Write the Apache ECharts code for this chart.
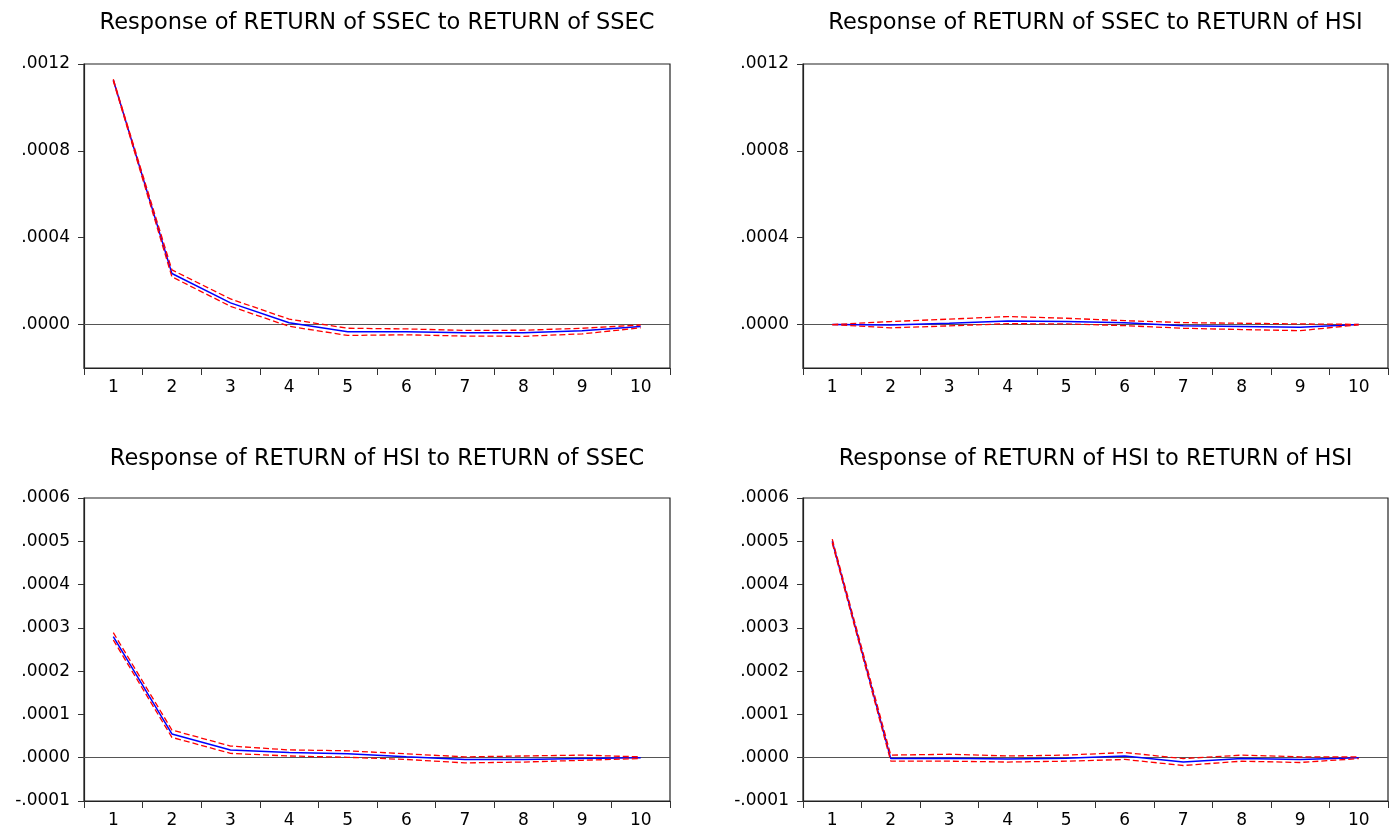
<!DOCTYPE html>
<html>
<head>
<meta charset="utf-8">
<script src="https://cdn.jsdelivr.net/npm/echarts@6/dist/echarts.min.js"></script>
<style>
html,body{margin:0;padding:0;background:#fff;}
#chart{width:1389px;height:829px;}
</style>
</head>
<body>
<div id="chart"></div>
<script>
// ---- Data ----
const periods = ['1','2','3','4','5','6','7','8','9','10'];

const titles = [
  'Response of RETURN of SSEC to RETURN of SSEC',
  'Response of RETURN of SSEC to RETURN of HSI',
  'Response of RETURN of HSI to RETURN of SSEC',
  'Response of RETURN of HSI to RETURN of HSI'
];

// Panel 1: SSEC -> SSEC
const ssecSsecResp  = [0.001126, 0.000235, 0.000100, 0.000008, -0.000033, -0.000033, -0.000038, -0.000038, -0.000028, -0.000009];
const ssecSsecUpper = [0.001130, 0.000252, 0.000118, 0.000025, -0.000017, -0.000020, -0.000027, -0.000026, -0.000017, -0.000002];
const ssecSsecLower = [0.001122, 0.000220, 0.000084, -0.000008, -0.000050, -0.000047, -0.000053, -0.000054, -0.000043, -0.000015];

// Panel 2: SSEC -> HSI
const ssecHsiResp  = [0, -0.000002, 0.000006, 0.000017, 0.000014, 0.000008, -0.000005, -0.000009, -0.000012, 0];
const ssecHsiUpper = [0, 0.000014, 0.000025, 0.000037, 0.000029, 0.000018, 0.000009, 0.000006, 0.000003, 0.000001];
const ssecHsiLower = [0, -0.000015, -0.000006, 0.000004, 0.000003, -0.000005, -0.000017, -0.000023, -0.000028, -0.000001];

// Panel 3: HSI -> SSEC
const hsiSsecResp  = [0.000280, 0.000055, 0.000018, 0.000012, 0.000009, 0.000002, -0.000004, -0.000004, -0.000002, 0];
const hsiSsecUpper = [0.000289, 0.000064, 0.000027, 0.000018, 0.000016, 0.000009, 0.000002, 0.000004, 0.000006, 0.000002];
const hsiSsecLower = [0.000272, 0.000047, 0.000010, 0.000004, 0.000001, -0.000004, -0.000012, -0.000010, -0.000006, -0.000002];

// Panel 4: HSI -> HSI
const hsiHsiResp  = [0.000500, -0.000002, -0.000001, -0.000003, -0.000001, 0.000004, -0.000010, -0.000002, -0.000004, 0];
const hsiHsiUpper = [0.000505, 0.000006, 0.000008, 0.000004, 0.000006, 0.000012, -0.000002, 0.000006, 0.000002, 0.000002];
const hsiHsiLower = [0.000496, -0.000008, -0.000008, -0.000010, -0.000008, -0.000004, -0.000018, -0.000008, -0.000011, -0.000002];

const topTicks = [0, 0.0004, 0.0008, 0.0012];

// ---- Layout ----
const panels = [
  {resp: ssecSsecResp, up: ssecSsecUpper, lo: ssecSsecLower, left: 84,  top: 64,  width: 586, min: -0.0002, max: 0.0012, interval: 0.0002, custom: topTicks},
  {resp: ssecHsiResp,  up: ssecHsiUpper,  lo: ssecHsiLower,  left: 803, top: 64,  width: 585, min: -0.0002, max: 0.0012, interval: 0.0002, custom: topTicks},
  {resp: hsiSsecResp,  up: hsiSsecUpper,  lo: hsiSsecLower,  left: 84,  top: 498, width: 586, min: -0.0001, max: 0.0006, interval: 0.0001, custom: null},
  {resp: hsiHsiResp,   up: hsiHsiUpper,   lo: hsiHsiLower,   left: 803, top: 498, width: 585, min: -0.0001, max: 0.0006, interval: 0.0001, custom: null}
];
const titleY = [10, 10, 446, 446];

const fmt = v => {
  const x = Math.abs(v) < 1e-12 ? 0 : v;
  return x.toFixed(4).replace('0.', '.');
};

const grids = [], xAxes = [], yAxes = [], series = [], titleArr = [];
panels.forEach((p, i) => {
  grids.push({left: p.left, top: p.top, width: p.width, height: 304, show: true,
    borderColor: '#222', borderWidth: 1.2, backgroundColor: 'transparent'});
  titleArr.push({text: titles[i], left: p.left + p.width / 2, top: titleY[i], textAlign: 'center', padding: 0,
    textStyle: {fontFamily: 'DejaVu Sans', fontSize: 22.5, fontWeight: 'normal', color: '#000', lineHeight: 26}});
  xAxes.push({type: 'category', gridIndex: i, data: periods, boundaryGap: true,
    axisLine: {show: true, onZero: false, lineStyle: {color: '#222', width: 1.2}},
    axisTick: {show: true, inside: false, length: 7, alignWithLabel: false, lineStyle: {color: '#333'}},
    axisLabel: {color: '#000', fontFamily: 'DejaVu Sans', fontSize: 17, margin: 11},
    splitLine: {show: false}});
  const ya = {type: 'value', gridIndex: i, min: p.min, max: p.max, interval: p.interval,
    axisLine: {show: true, lineStyle: {color: '#222', width: 1.2}},
    axisTick: {show: true, inside: false, length: 6, lineStyle: {color: '#333'}},
    axisLabel: {color: '#000', fontFamily: 'DejaVu Sans', fontSize: 17, margin: 14, formatter: fmt},
    splitLine: {show: false}};
  if (p.custom) {
    ya.axisTick.customValues = p.custom;
    ya.axisLabel.customValues = p.custom;
  }
  yAxes.push(ya);
  series.push({type: 'line', xAxisIndex: i, yAxisIndex: i, data: p.resp, symbol: 'none',
    lineStyle: {color: '#0000ff', width: 1.5}, z: 3,
    markLine: {silent: true, symbol: 'none', label: {show: false},
      lineStyle: {color: '#555', width: 1.2, type: 'solid'}, data: [{yAxis: 0}], z: 2}});
  series.push({type: 'line', xAxisIndex: i, yAxisIndex: i, data: p.up, symbol: 'none',
    lineStyle: {color: '#ff0000', width: 1.3, type: [6, 3]}, z: 4});
  series.push({type: 'line', xAxisIndex: i, yAxisIndex: i, data: p.lo, symbol: 'none',
    lineStyle: {color: '#ff0000', width: 1.3, type: [6, 3]}, z: 4});
});

const chart = echarts.init(document.getElementById('chart'), null, {renderer: 'canvas'});
chart.setOption({
  backgroundColor: '#fff',
  animation: false,
  title: titleArr,
  grid: grids,
  xAxis: xAxes,
  yAxis: yAxes,
  series: series
});
</script>
</body>
</html>
